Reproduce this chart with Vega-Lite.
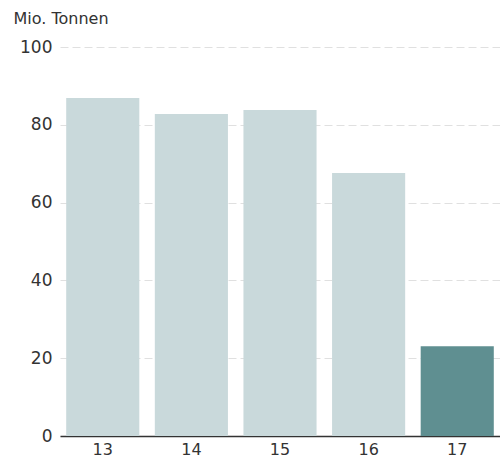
{
  "$schema": "https://vega.github.io/schema/vega-lite/v6.json",
  "width": 440,
  "height": 389,
  "autosize": {"type": "none"},
  "padding": {"left": 60, "top": 47, "right": 0, "bottom": 25},
  "background": "white",
  "config": {"view": {"stroke": null}, "font": "DejaVu Sans"},
  "data": {"values": [
    {"year": "13", "value": 86.9, "highlight": "no"},
    {"year": "14", "value": 82.8, "highlight": "no"},
    {"year": "15", "value": 83.8, "highlight": "no"},
    {"year": "16", "value": 67.6, "highlight": "no"},
    {"year": "17", "value": 23.1, "highlight": "yes"}
  ]},
  "mark": {"type": "bar"},
  "encoding": {
    "x": {
      "field": "year", "type": "ordinal",
      "scale": {"paddingInner": 0.175, "paddingOuter": 0.07},
      "axis": {
        "title": null, "labelAngle": 0, "ticks": false, "domainColor": "#333333",
        "domainWidth": 1.5, "labelFontSize": 16, "labelColor": "#333333", "labelPadding": 5
      }
    },
    "y": {
      "field": "value", "type": "quantitative",
      "scale": {"domain": [0, 100]},
      "axis": {
        "values": [0, 20, 40, 60, 80, 100], "ticks": false, "domain": false,
        "grid": true, "gridDash": [8, 4], "gridColor": "#e0e0e0", "gridWidth": 1,
        "labelFontSize": 17, "labelColor": "#333333", "labelPadding": 8,
        "title": "Mio. Tonnen", "titleAngle": 0, "titleAlign": "left", "titleBaseline": "alphabetic",
        "titleX": -47, "titleY": -24, "titleFontSize": 16, "titleFontWeight": "normal", "titleColor": "#333333"
      }
    },
    "color": {
      "field": "highlight", "type": "nominal",
      "scale": {"domain": ["no", "yes"], "range": ["#c9d9db", "#5f8f91"]},
      "legend": null
    }
  }
}
